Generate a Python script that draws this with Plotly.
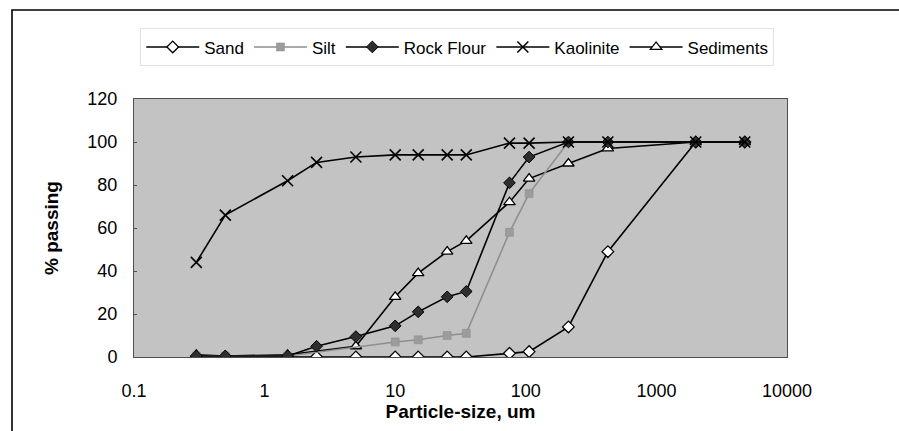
import plotly.graph_objects as go

# Particle-size distribution (sieve + hydrometer), % passing by size in micrometres
sizes = [0.3, 0.5, 1.5, 2.5, 5, 10, 15, 25, 35, 75, 106, 212, 425, 2000, 4750]

sand = [0, 0, 0, 0, 0, 0, 0, 0, 0, 1.7, 2.5, 14, 49, 100, 100]
silt = [0.5, 0.5, 0.5, None, None, 7, 8, 10, 11, 58, 76, 100, 100, 100, 100]
rock_flour = [0.5, 0.5, 0.5, 5, 9.5, 14.5, 21, 28, 30.5, 81, 93, 100, 100, 100, 100]
kaolinite = [44, 66, 82, 90.5, 93, 94, 94, 94, 94, 99.5, 99.5, 100, 100, 100, 100]
sediments = [1, 0.5, 1, None, 5, 28, 39, 49, 54, 72, 83, 90, 97, 100, 100]

x_ticks = [0.1, 1, 10, 100, 1000, 10000]
x_tick_text = ["0.1", "1", "10", "100", "1000", "10000"]
y_ticks = [0, 20, 40, 60, 80, 100, 120]

FONT = "Arial, 'Liberation Sans', sans-serif"

fig = go.Figure()

# drawing order: open-marker series underneath, filled markers on top
series = [
    ("Sand", sand, 1, dict(symbol="diamond", size=9, color="white",
                            line=dict(color="black", width=1.3)), "black"),
    ("Sediments", sediments, 5, dict(symbol="triangle-up", size=10, color="white",
                                     line=dict(color="black", width=1.3)), "black"),
    ("Silt", silt, 2, dict(symbol="square", size=8, color="#9c9c9c",
                           line=dict(color="#8a8a8a", width=0.5)), "#8f8f8f"),
    ("Rock Flour", rock_flour, 3, dict(symbol="diamond", size=9, color="#2e2e2e",
                                       line=dict(color="black", width=1)), "black"),
    ("Kaolinite", kaolinite, 4, dict(symbol="x-thin", size=11,
                                     line=dict(color="black", width=1.6)), "black"),
]

for name, vals, rank, marker, lcolor in series:
    fig.add_trace(go.Scatter(
        x=sizes, y=vals, name=name, mode="lines+markers",
        connectgaps=True, legendrank=rank,
        line=dict(color=lcolor, width=1.6),
        marker=marker,
    ))

fig.update_layout(
    width=899, height=431,
    margin=dict(l=134, r=112, t=99, b=74),
    paper_bgcolor="white",
    plot_bgcolor="#c3c3c3",
    font=dict(family=FONT, size=18, color="black"),
    showlegend=True,
    legend=dict(
        orientation="h", x=0.495, xanchor="center", y=1.20, yanchor="middle",
        font=dict(family=FONT, size=17, color="black"),
        bgcolor="white", bordercolor="#e2e2e2", borderwidth=1,
        itemwidth=53, tracegroupgap=0,
    ),
    xaxis=dict(
        type="log", range=[-1, 4], tickvals=x_ticks, ticktext=x_tick_text,
        showgrid=False, zeroline=False, ticks="", showline=True,
        linecolor="#505050", linewidth=1, mirror=True,
        ticklabelstandoff=17,
        title=dict(text="<b>Particle-size, um</b>", font=dict(size=19), standoff=4),
    ),
    yaxis=dict(
        range=[0, 120], tickvals=y_ticks,
        showgrid=False, zeroline=False, ticks="inside", ticklen=3,
        tickcolor="#505050", showline=True,
        linecolor="#505050", linewidth=1, mirror=True,
        ticklabelstandoff=12,
        title=dict(text="<b>% passing</b>", font=dict(size=19), standoff=23),
    ),
    shapes=[
        # outer chart frame
        dict(type="rect", xref="paper", yref="paper",
             x0=(12 - 134) / 653, x1=(910 - 134) / 653,
             y0=(357 - 445) / 258, y1=(357 - 10) / 258,
             line=dict(color="black", width=1.6), layer="below"),
    ],
)

fig.write_html("out.html")
